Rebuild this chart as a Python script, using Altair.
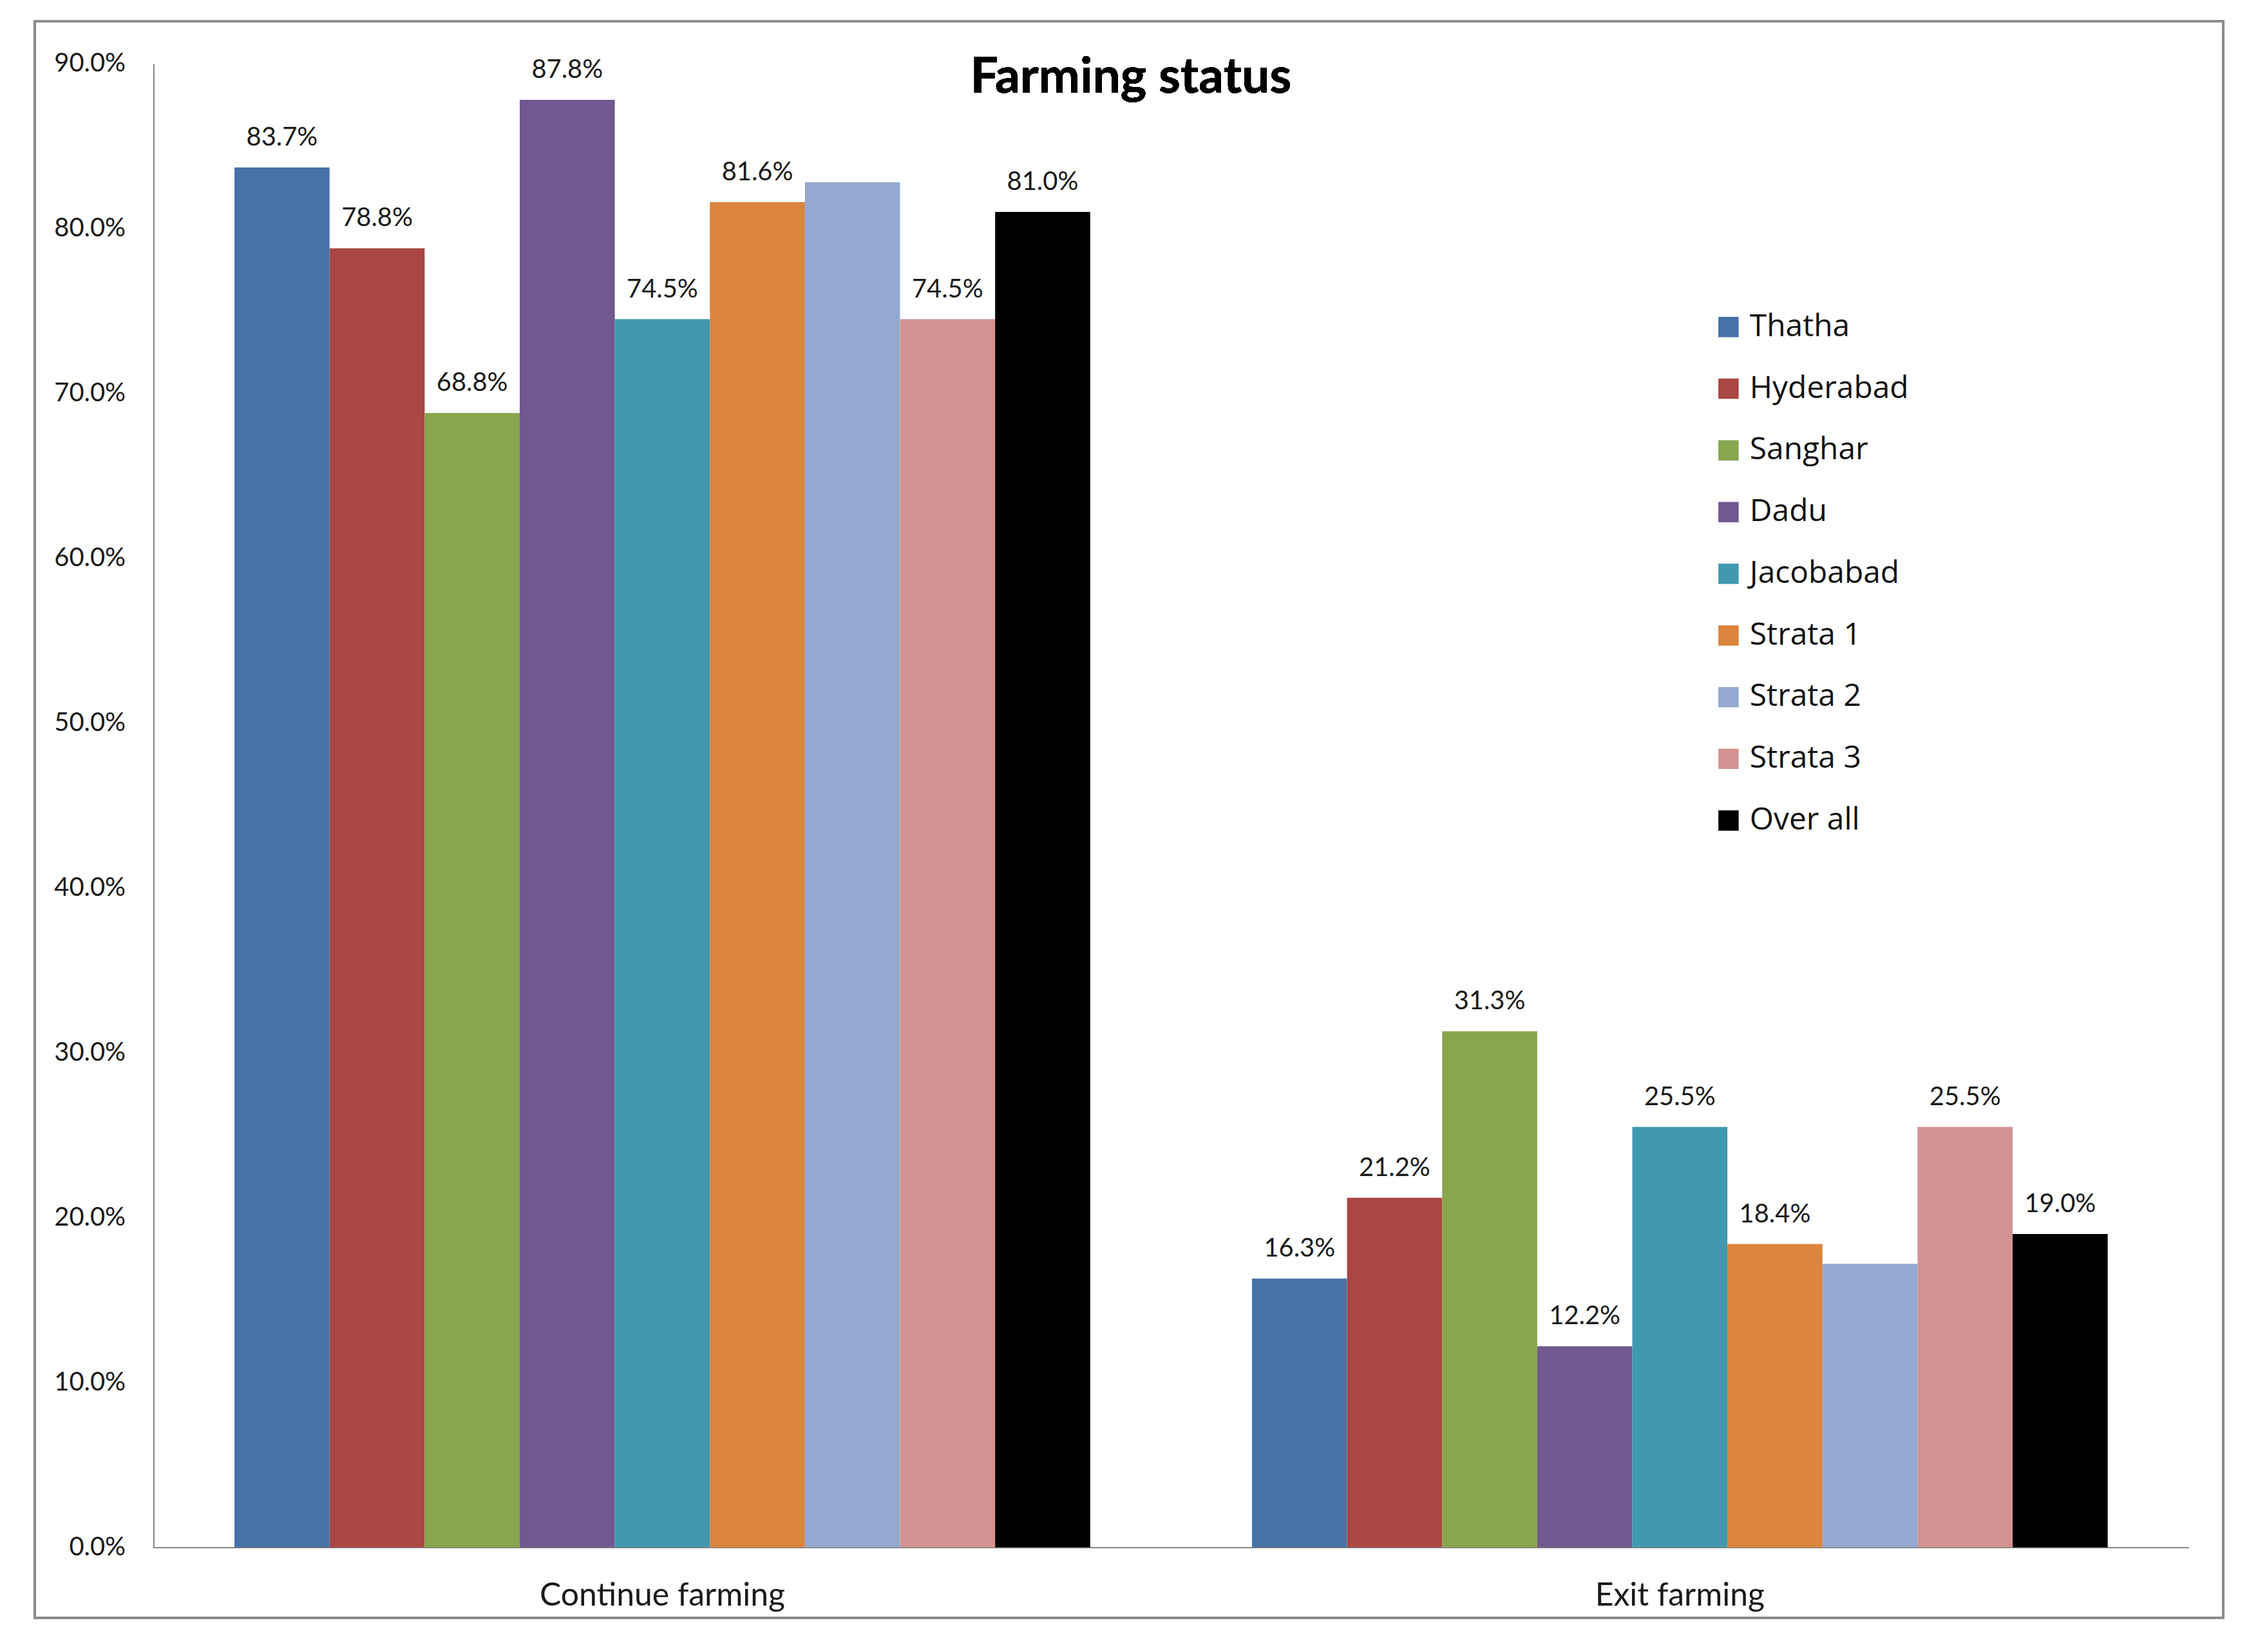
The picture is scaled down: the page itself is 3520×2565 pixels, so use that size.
import altair as alt
import pandas as pd

categories = ["Continue farming", "Exit farming"]
series = ["Thatha", "Hyderabad", "Sanghar", "Dadu", "Jacobabad",
          "Strata 1", "Strata 2", "Strata 3", "Over all"]
continue_vals = [0.837, 0.788, 0.688, 0.878, 0.745, 0.816, 0.828, 0.745, 0.810]
exit_vals = [0.163, 0.212, 0.313, 0.122, 0.255, 0.184, 0.172, 0.255, 0.190]
labelled = [True, True, True, True, True, True, False, True, True]
colors = ["#4572A7", "#AA4643", "#89A54E", "#71588F", "#4198AF",
          "#DB843D", "#93A9CF", "#D19392", "#000000"]
y_ticks = [0.0, 0.1, 0.2, 0.3, 0.4, 0.5, 0.6, 0.7, 0.8, 0.9]

rows = []
for cat, vals in zip(categories, [continue_vals, exit_vals]):
    for s, v, lab in zip(series, vals, labelled):
        rows.append({"category": cat, "series": s, "value": v, "labelled": lab})
df = pd.DataFrame(rows)

W, H = 3167, 2309
L, T = 231, 88
X0, Y0 = L + 8, T + 8

x_enc = alt.X("category:N", sort=categories, title=None,
              scale=alt.Scale(paddingInner=0.159, paddingOuter=0.0795),
              axis=alt.Axis(labelAngle=0, ticks=False, domainColor="#868686",
                            domainWidth=2, labelFontSize=50, labelPadding=50,
                            labelFont="Lato", labelColor="#1a1a1a", labelLimit=2000))
xo_enc = alt.XOffset("series:N", sort=series, scale=alt.Scale(paddingInner=0, paddingOuter=0))
y_enc = alt.Y("value:Q", title=None,
              scale=alt.Scale(domain=[0, 0.9], nice=False),
              axis=alt.Axis(values=y_ticks, format=".1%", grid=False, ticks=False,
                            domainColor="#868686", domainWidth=2, labelFontSize=40,
                            labelFont="Lato", labelPadding=44, labelColor="#1a1a1a"))

bars = alt.Chart(df).mark_bar().encode(
    x=x_enc, xOffset=xo_enc, y=y_enc,
    color=alt.Color("series:N", sort=series,
                    scale=alt.Scale(domain=series, range=colors),
                    legend=alt.Legend(title=None, orient="none", legendX=2427, legendY=386,
                                      symbolType="square", symbolSize=1000,
                                      symbolStrokeWidth=0, labelFontSize=48,
                                      labelFont="Open Sans", labelColor="#111111",
                                      labelOffset=9, rowPadding=48, padding=0,
                                      labelLimit=800)),
)

labels = alt.Chart(df).transform_filter("datum.labelled").mark_text(
    font="Lato", fontSize=40, color="#1a1a1a", baseline="alphabetic", dy=-34
).encode(
    x=alt.X("category:N", sort=categories),
    xOffset=alt.XOffset("series:N", sort=series),
    y="value:Q",
    text=alt.Text("value:Q", format=".1%"),
)

title = alt.Chart(df).mark_text(
    font="Lato", fontSize=77, fontWeight="bold", color="#000000", baseline="middle"
).encode(x=alt.value(1760 - X0), y=alt.value(118 - Y0), text=alt.value("Farming status"))

frame = alt.Chart(df).mark_rect(filled=False, stroke="#8c8c8c", strokeWidth=3).encode(
    x=alt.value(54 - X0), x2=alt.value(3460 - X0),
    y=alt.value(30 - Y0), y2=alt.value(2515 - Y0)
)

chart = alt.layer(frame, bars, labels, title).properties(
    width=W, height=H,
    background="white",
    autosize=alt.AutoSizeParams(type="none"),
    padding={"left": L, "top": T, "right": 3512 - L - W, "bottom": 2557 - T - H},
).configure_view(strokeWidth=0, stroke=None)

chart.save("out.html", embed_options={"renderer": "svg", "actions": False})
